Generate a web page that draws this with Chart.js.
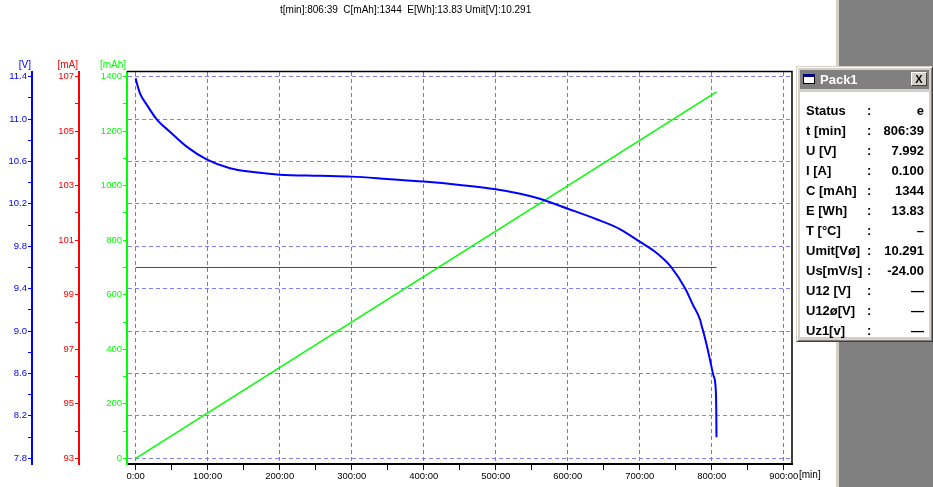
<!DOCTYPE html>
<html>
<head>
<meta charset="utf-8">
<script src="https://cdn.jsdelivr.net/npm/chart.js@4.4.1/dist/chart.umd.min.js"></script>
<style>
  body { margin: 0; background: #fff; }
  #wrap { position: relative; width: 933px; height: 487px; overflow: hidden; font-family: Arial, "Liberation Sans", sans-serif; }
  #chart { position: absolute; left: 0; top: 0; }
  #head { position: absolute; left: 280px; top: 4px; font-size: 10px; white-space: pre; color: #000; }
  #side { position: absolute; left: 836px; top: 0; width: 97px; height: 487px; background: #808080; border-left: 3px solid #d4d0c8; box-sizing: border-box; }
  #pack { position: absolute; left: 796px; top: 66px; width: 137px; height: 276px; background: #d4d0c8; border: 1px solid; border-color: #d4d0c8 #404040 #404040 #d4d0c8; box-shadow: inset 1px 1px 0 #fff, inset -1px -1px 0 #808080; box-sizing: border-box; }
  #ttl { position: absolute; left: 3px; top: 3px; right: 3px; height: 19px; background: #808080; color: #fff; font-weight: bold; font-size: 13px; line-height: 19px; }
  #ttl .ico { position: absolute; left: 3px; top: 4px; width: 12px; height: 10px; background: #fff; border: 1px solid #000; border-top: 3px solid #000080; box-sizing: border-box; }
  #ttl .name { position: absolute; left: 20px; top: 0; }
  #ttl .cls { position: absolute; right: 2px; top: 2px; width: 16px; height: 14px; background: #d4d0c8; color: #000; font-size: 11px; line-height: 13px; text-align: center; box-sizing: border-box; border: 1px solid; border-color: #fff #404040 #404040 #fff; }
  #body { position: absolute; left: 3px; top: 25px; right: 3px; bottom: 4px; background: #fff; }
  .row { position: absolute; left: 0; width: 100%; height: 20px; line-height: 20px; font-size: 13px; font-weight: bold; color: #000; }
  .row .l { position: absolute; left: 6px; }
  .row .c { position: absolute; left: 67px; }
  .row .v { position: absolute; right: 5px; }
</style>
</head>
<body>
<div id="wrap">
  <canvas id="chart" width="933" height="487"></canvas>
  <div id="head"></div>
  <div id="side"></div>
  <div id="pack">
    <div id="ttl"><div class="ico"></div><span class="name">Pack1</span><div class="cls">X</div></div>
    <div id="body"></div>
  </div>
</div>
<script>
// header and info window
const headerText = "t[min]:806:39  C[mAh]:1344  E[Wh]:13.83 Umit[V]:10.291";
const panelLabels = ["Status", "t [min]", "U [V]", "I [A]", "C [mAh]", "E [Wh]", "T [°C]", "Umit[Vø]", "Us[mV/s]", "U12 [V]", "U12ø[V]", "Uz1[v]"];
const panelValues = ["e", "806:39", "7.992", "0.100", "1344", "13.83", "–", "10.291", "-24.00", "—", "—", "—"];

// discharge voltage curve
const timeMin = [0, 2, 6, 15, 29, 47.6, 70.8, 98.6, 131, 163, 200, 256, 300, 349, 400, 450, 500, 534, 559, 601, 640, 673, 700, 724, 744, 763, 774, 784, 786, 788.5, 793, 797.6, 802.2, 805.5, 806.3, 806.65];
const voltage = [11.385, 11.33, 11.243, 11.14, 11.0, 10.88, 10.74, 10.62, 10.536, 10.5, 10.475, 10.465, 10.457, 10.435, 10.41, 10.378, 10.338, 10.296, 10.253, 10.152, 10.055, 9.96, 9.843, 9.734, 9.602, 9.404, 9.246, 9.105, 9.05, 8.99, 8.869, 8.73, 8.586, 8.46, 8.27, 7.998];

// capacity and current
const capTime = [0, 806.65];
const capacity = [0, 1344];
const curTime = [0, 806.65];
const current = [100, 100];

// tick values
const xTicks = [0, 50, 100, 150, 200, 250, 300, 350, 400, 450, 500, 550, 600, 650, 700, 750, 800, 850, 900];
const voltTicks = [7.8, 8.0, 8.2, 8.4, 8.6, 8.8, 9.0, 9.2, 9.4, 9.6, 9.8, 10.0, 10.2, 10.4, 10.6, 10.8, 11.0, 11.2, 11.4];
const currentTicks = [93, 94, 95, 96, 97, 98, 99, 100, 101, 102, 103, 104, 105, 106, 107];
const capTicks = [0, 100, 200, 300, 400, 500, 600, 700, 800, 900, 1000, 1100, 1200, 1300, 1400];

document.getElementById("head").textContent = headerText;
const body = document.getElementById("body");
panelLabels.forEach((lab, i) => {
  const r = document.createElement("div");
  r.className = "row";
  r.style.top = (9 + i * 20) + "px";
  r.innerHTML = '<span class="l"></span><span class="c">:</span><span class="v"></span>';
  r.querySelector(".l").textContent = lab;
  r.querySelector(".v").textContent = panelValues[i];
  body.appendChild(r);
});

const FONT = { family: "Arial, 'Liberation Sans', sans-serif", size: 9.5 };
const pts = (xs, ys) => xs.map((x, i) => ({ x: x, y: ys[i] }));

// left axis factory, ticks every step, label every other one
function leftAxis(ticksArr, color, min, max, width, weight, fmt, gridOn) {
  return {
    type: "linear",
    position: "left",
    weight: weight,
    min: min,
    max: max,
    afterBuildTicks: (s) => { s.ticks = ticksArr.map((v) => ({ value: v })); },
    afterFit: (s) => { s.width = width; s.paddingTop = 0; s.paddingBottom = 0; },
    ticks: {
      color: color, font: FONT, padding: 1, autoSkip: false,
      callback: (v, i) => (i % 2 === 0 ? fmt(v) : "")
    },
    grid: {
      drawOnChartArea: gridOn,
      color: (c) => (gridOn && c.index % 2 === 0 ? "#8080ff" : "rgba(0,0,0,0)"),
      tickColor: color,
      tickLength: 4
    },
    border: { color: color, width: 2, dash: [4, 3] }
  };
}

const framePlugin = {
  id: "frame",
  beforeDraw(chart) {
    const ctx = chart.ctx;
    ctx.save();
    ctx.fillStyle = "#fff";
    ctx.fillRect(0, 0, chart.width, chart.height);
    ctx.restore();
  },
  afterDraw(chart) {
    const { ctx, chartArea: a, scales } = chart;
    ctx.save();
    ctx.strokeStyle = "#000";
    ctx.lineWidth = 1.5;
    ctx.beginPath();
    ctx.moveTo(a.left, a.top - 0.5);
    ctx.lineTo(a.right, a.top - 0.5);
    ctx.lineTo(a.right, a.bottom);
    ctx.stroke();
    ctx.font = "10px Arial, 'Liberation Sans', sans-serif";
    ctx.textAlign = "right";
    ctx.textBaseline = "alphabetic";
    [["yV", "[V]", "#0000ff"], ["yI", "[mA]", "#ff0000"], ["yC", "[mAh]", "#00ff00"]].forEach(([id, t, col]) => {
      ctx.fillStyle = col;
      ctx.fillText(t, scales[id].right - 1, 68);
    });
    ctx.fillStyle = "#000";
    ctx.textAlign = "left";
    ctx.textBaseline = "middle";
    ctx.fillText("[min]", 799, 475);
    ctx.restore();
  }
};

new Chart(document.getElementById("chart"), {
  type: "line",
  data: {
    datasets: [
      { data: pts(timeMin, voltage), yAxisID: "yV", borderColor: "#0000ff", borderWidth: 2, pointRadius: 0, cubicInterpolationMode: "monotone" },
      { data: pts(capTime, capacity), yAxisID: "yC", borderColor: "#00ff00", borderWidth: 1.5, pointRadius: 0 },
      { data: pts(curTime, current), yAxisID: "yI", borderColor: "#ff0000", borderWidth: 1, pointRadius: 0 }
    ]
  },
  options: {
    responsive: false,
    animation: false,
    layout: { padding: { top: 72, left: 0, right: 141, bottom: 0 } },
    plugins: { legend: { display: false }, tooltip: { enabled: false }, title: { display: false } },
    scales: {
      x: {
        type: "linear",
        min: -12,
        max: 911.5,
        afterBuildTicks: (s) => { s.ticks = xTicks.map((v) => ({ value: v })); },
        afterFit: (s) => { s.height = 23; s.paddingLeft = 0; s.paddingRight = 0; },
        ticks: {
          color: "#000", font: FONT, padding: 1, autoSkip: false, maxRotation: 0,
          callback: (v, i) => (i % 2 === 0 ? v + ":00" : "")
        },
        grid: {
          color: (c) => (c.index % 2 === 0 ? "#808080" : "rgba(0,0,0,0)"),
          tickColor: "#000",
          tickLength: 6
        },
        border: { color: "#000", width: 2, dash: [4, 3] }
      },
      yV: leftAxis(voltTicks, "#0000ff", 7.746, 11.444, 32, 3, (v) => v.toFixed(1), true),
      yI: leftAxis(currentTicks, "#ff0000", 92.791, 107.172, 47, 2, (v) => String(v), false),
      yC: leftAxis(capTicks, "#00ff00", -20.9, 1417.2, 48, 1, (v) => String(v), false)
    }
  },
  plugins: [framePlugin]
});
</script>
</body>
</html>
